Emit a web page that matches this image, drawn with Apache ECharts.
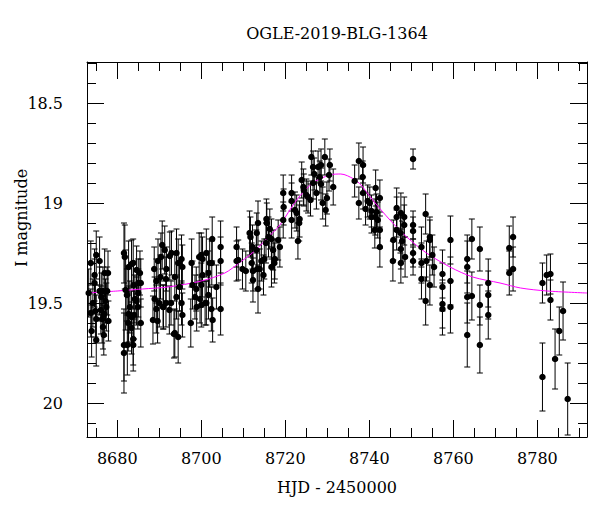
<!DOCTYPE html>
<html>
<head>
<meta charset="utf-8">
<script src="https://cdn.jsdelivr.net/npm/echarts@6/dist/echarts.min.js"></script>
<style>
html,body{margin:0;padding:0;background:#fff;}
#chart{width:600px;height:512px;}
</style>
</head>
<body>
<div id="chart"></div>
<script>
// ---- data ----
const titleText = "OGLE-2019-BLG-1364";
const xTitle = "HJD - 2450000";
const yTitle = "I magnitude";
const xMajor = [8680, 8700, 8720, 8740, 8760, 8780];
const xMinor = [8675,8685,8690,8695,8705,8710,8715,8725,8730,8735,8745,8750,8755,8765,8770,8775,8785,8790];
const yMajor = [18.5, 19, 19.5, 20];
const yMinor = [18.3,18.4,18.6,18.7,18.8,18.9,19.1,19.2,19.3,19.4,19.6,19.7,19.8,19.9,20.1];

const hjd = [
 8673.7,8675.0,8675.8,8674.6,8674.6,8675.8,8676.6,8677.0,8677.8,8676.2,8677.2,8677.4,8673.7,8674.8,8676.1,8676.9,8675.0,8676.4,8673.9,8675.0,8676.6,8677.6,8673.2,8674.2,8677.9,8676.8,
 8681.6,8681.8,8682.0,8682.7,8683.4,8683.8,8684.6,8685.0,8685.6,8683.9,8684.2,8684.6,8682.7,8683.4,8684.0,8682.6,8683.4,8685.6,8683.8,8681.6,8682.4,8683.8,8681.6,8685.0,8683.0,8682.3,8684.9,8685.4,
 8688.8,8689.7,8690.7,8690.4,8691.3,8691.7,8692.5,8689.3,8690.3,8691.6,8688.9,8690.0,8691.0,8691.6,8692.8,8689.3,8688.5,8689.6,8690.9,8692.4,8693.5,8692.9,8694.1,8694.5,8695.3,8695.5,8693.7,8694.8,8694.1,8695.3,8693.7,8694.5,8695.5,
 8697.7,8699.5,8700.0,8700.3,8701.2,8702.0,8702.6,8702.5,8704.6,8704.6,8697.9,8698.8,8700.0,8698.5,8699.7,8700.9,8701.7,8703.6,8698.9,8700.0,8701.2,8702.4,8697.5,8702.7,8704.6,8700.3,8701.7,
 8708.4,8708.4,8708.8,8709.8,8710.6,8711.5,8711.7,8712.0,8712.3,8713.2,8713.5,8713.3,8713.5,8713.1,8712.2,8712.3,8714.3,8713.9,8714.8,8715.0,
 8715.5,8715.6,8716.3,8716.7,8716.0,8715.4,8717.1,8717.5,8718.3,8718.7,8717.4,8716.7,8719.5,8719.5,8719.6,8721.5,8721.5,8721.5,8722.3,8722.7,8723.3,8723.0,8723.4,8723.9,8724.3,8724.4,8725.0,8725.4,8726.0,8726.2,8726.6,8726.9,8726.6,8727.4,8727.8,8728.2,8728.5,8728.9,8729.6,8729.4,8730.6,8730.4,8729.9,8731.4,8728.5,
 8737.5,8738.5,8738.4,8736.5,8737.5,8738.5,8739.6,8740.1,8739.1,8740.5,8740.5,8741.5,8741.7,8742.5,8741.4,8741.3,8742.5,8742.0,8742.5,8750.4,
 8746.5,8747.5,8746.5,8748.3,8748.3,8745.7,8746.5,8747.4,8747.8,8748.5,8747.5,8747.5,8745.6,8750.4,8750.4,8750.4,8750.4,
 8753.4,8754.4,8754.4,8752.4,8753.6,8752.4,8755.0,8752.4,8754.4,8753.4,8755.4,
 8757.4,8757.4,8757.4,8757.4,8759.3,8759.3,8759.3,8763.3,8763.3,8763.3,8763.3,8764.4,8764.4,8766.3,8766.3,8766.3,8768.3,8768.3,8768.3,8773.3,8773.3,8774.2,8774.2,
 8781.2,8781.2,8782.2,8783.1,8783.1,8784.2,8785.2,8786.1,8787.2
];
const mag = [
 19.30,19.26,19.29,19.36,19.40,19.44,19.44,19.35,19.35,19.47,19.49,19.52,19.55,19.54,19.535,19.555,19.58,19.58,19.64,19.685,19.62,19.44,19.45,19.50,19.59,19.66,
 19.25,19.27,19.435,19.32,19.305,19.30,19.335,19.40,19.40,19.41,19.48,19.49,19.555,19.57,19.56,19.60,19.625,19.60,19.68,19.71,19.71,19.71,19.75,19.45,19.52,19.46,19.52,19.35,
 19.33,19.29,19.21,19.27,19.235,19.33,19.265,19.39,19.37,19.38,19.48,19.50,19.52,19.50,19.50,19.53,19.585,19.59,19.52,19.535,19.655,19.25,19.25,19.30,19.28,19.32,19.37,19.42,19.47,19.50,19.65,19.67,19.56,
 19.30,19.27,19.26,19.28,19.25,19.30,19.18,19.30,19.22,19.29,19.41,19.43,19.41,19.47,19.48,19.50,19.46,19.42,19.52,19.51,19.50,19.53,19.60,19.585,19.53,19.36,19.35,
 19.22,19.29,19.285,19.33,19.34,19.15,19.17,19.30,19.385,19.15,19.10,19.33,19.43,19.235,19.22,19.34,19.29,19.33,19.36,19.28,
 19.08,19.10,19.13,19.18,19.17,19.20,19.235,19.28,19.185,19.22,19.30,19.32,19.085,18.95,19.02,18.95,18.99,19.085,19.035,19.05,19.10,19.19,19.08,18.885,18.92,18.935,18.96,18.97,18.985,18.77,18.82,18.855,18.90,18.95,18.82,18.87,18.905,19.00,19.035,18.77,18.81,18.86,18.975,18.92,18.81,
 18.79,18.81,18.87,18.89,19.00,18.95,18.99,19.00,19.03,19.04,19.07,18.925,19.045,18.975,19.07,19.135,19.135,19.085,19.22,18.78,
 19.025,19.05,19.07,19.07,19.11,19.185,19.135,19.15,19.19,19.27,19.23,19.30,19.29,19.11,19.14,19.25,19.29,
 19.055,19.17,19.185,19.22,19.29,19.30,19.26,19.38,19.41,19.49,19.32,
 19.355,19.42,19.505,19.53,19.185,19.39,19.52,19.28,19.32,19.47,19.66,19.18,19.465,19.23,19.51,19.71,19.40,19.46,19.56,19.225,19.35,19.17,19.33,
 19.40,19.87,19.36,19.355,19.485,19.78,19.64,19.54,19.98
];
const err = [
 0.11,0.12,0.12,0.13,0.12,0.12,0.12,0.12,0.11,0.12,0.11,0.12,0.12,0.13,0.12,0.11,0.12,0.12,0.13,0.13,0.11,0.12,0.12,0.12,0.10,0.10,
 0.15,0.16,0.20,0.13,0.12,0.12,0.12,0.12,0.12,0.12,0.12,0.12,0.14,0.13,0.12,0.14,0.13,0.12,0.13,0.18,0.15,0.13,0.20,0.12,0.13,0.13,0.11,0.11,
 0.11,0.11,0.12,0.12,0.12,0.11,0.12,0.11,0.11,0.11,0.11,0.12,0.11,0.12,0.11,0.12,0.12,0.11,0.11,0.12,0.12,0.11,0.12,0.12,0.12,0.11,0.12,0.12,0.11,0.11,0.12,0.13,0.11,
 0.12,0.12,0.11,0.11,0.12,0.12,0.11,0.11,0.13,0.12,0.12,0.11,0.11,0.11,0.12,0.11,0.12,0.11,0.12,0.11,0.11,0.11,0.12,0.11,0.13,0.11,0.11,
 0.10,0.10,0.10,0.10,0.10,0.11,0.10,0.10,0.11,0.10,0.11,0.10,0.12,0.10,0.11,0.10,0.10,0.10,0.10,0.10,
 0.10,0.10,0.10,0.10,0.10,0.10,0.10,0.10,0.10,0.10,0.10,0.10,0.09,0.09,0.09,0.09,0.09,0.09,0.09,0.09,0.09,0.09,0.09,0.09,0.09,0.08,0.08,0.08,0.08,0.09,0.08,0.08,0.08,0.08,0.08,0.08,0.08,0.08,0.08,0.09,0.08,0.08,0.08,0.09,0.08,
 0.09,0.09,0.08,0.08,0.08,0.08,0.08,0.08,0.08,0.08,0.08,0.09,0.09,0.09,0.09,0.09,0.09,0.09,0.10,0.05,
 0.10,0.10,0.10,0.10,0.10,0.10,0.10,0.10,0.10,0.10,0.10,0.10,0.10,0.07,0.07,0.07,0.07,
 0.10,0.10,0.10,0.10,0.10,0.10,0.10,0.10,0.10,0.12,0.10,
 0.12,0.12,0.12,0.13,0.12,0.12,0.13,0.12,0.13,0.13,0.16,0.10,0.12,0.11,0.10,0.14,0.12,0.12,0.12,0.11,0.11,0.10,0.11,
 0.10,0.17,0.10,0.10,0.10,0.15,0.12,0.145,0.18
];

// model curve
const modelT = [8672.8,8680,8686,8692,8700,8705.6,8709,8712.7,8715.5,8718.7,8722.7,8726.5,8730.6,8733.2,8736.3,8738,8740.8,8744.9,8748.9,8753.6,8759.2,8764.6,8771.1,8776,8782.3,8791.8];
const modelM = [19.45,19.44,19.43,19.42,19.39,19.35,19.30,19.24,19.18,19.11,18.985,18.90,18.86,18.855,18.88,18.91,18.985,19.085,19.17,19.25,19.32,19.37,19.40,19.425,19.44,19.45];

// ---- chart ----
const XMIN = 8672.8, XMAX = 8791.8, YMIN = 18.295, YMAX = 20.17;
const FONT = "DejaVu Serif";
const chart = echarts.init(document.getElementById('chart'), null, {renderer: 'svg'});

function xAx(pos, vals, len, showLine, showLabel) {
  return {
    type: 'value', position: pos, min: XMIN, max: XMAX, gridIndex: 0,
    axisLine: {show: showLine, lineStyle: {color: '#000', width: 1}},
    axisTick: {show: true, inside: true, length: len, customValues: vals, lineStyle: {color: '#000', width: 1}},
    axisLabel: showLabel ? {show: true, customValues: vals, formatter: v => String(v), fontFamily: FONT, fontSize: 16, color: '#000', margin: 13} : {show: false},
    splitLine: {show: false}, minorTick: {show: false}
  };
}
function yAx(pos, vals, len, showLine, showLabel) {
  return {
    type: 'value', position: pos, min: YMIN, max: YMAX, inverse: true, gridIndex: 0,
    axisLine: {show: showLine, lineStyle: {color: '#000', width: 1}},
    axisTick: {show: true, inside: true, length: len, customValues: vals, lineStyle: {color: '#000', width: 1}},
    axisLabel: showLabel ? {show: true, customValues: vals, formatter: v => String(v), fontFamily: FONT, fontSize: 16, color: '#000', margin: 24} : {show: false},
    splitLine: {show: false}, minorTick: {show: false}
  };
}

const points = hjd.map((t, i) => [t, mag[i], err[i]]);
const model = modelT.map((t, i) => [t, modelM[i]]);

function renderErr(params, api) {
  const x = api.value(0), y = api.value(1), e = api.value(2);
  const top = api.coord([x, y - e]);
  const bot = api.coord([x, y + e]);
  const hw = 3;
  const st = {stroke: '#000', lineWidth: 1, fill: null};
  return {type: 'group', children: [
    {type: 'line', shape: {x1: top[0], y1: top[1], x2: bot[0], y2: bot[1]}, style: st},
    {type: 'line', shape: {x1: top[0] - hw, y1: top[1], x2: top[0] + hw, y2: top[1]}, style: st},
    {type: 'line', shape: {x1: bot[0] - hw, y1: bot[1], x2: bot[0] + hw, y2: bot[1]}, style: st}
  ]};
}

chart.setOption({
  backgroundColor: '#fff',
  animation: false,
  grid: {left: 87, top: 62, width: 500, height: 375, outerBoundsMode: 'none', containLabel: false},
  xAxis: [
    xAx('bottom', xMajor, 17, true, true),
    xAx('bottom', xMinor, 9, false, false),
    xAx('top', xMajor, 17, true, false),
    xAx('top', xMinor, 9, false, false)
  ],
  yAxis: [
    yAx('left', yMajor, 17, true, true),
    yAx('left', yMinor, 9, false, false),
    yAx('right', yMajor, 17, true, false),
    yAx('right', yMinor, 9, false, false)
  ],
  graphic: [
    {type: 'text', x: 337, y: 33, style: {text: titleText, font: '16px "DejaVu Serif"', fill: '#000', textAlign: 'center', textVerticalAlign: 'middle'}},
    {type: 'text', x: 337, y: 487, style: {text: xTitle, font: '16px "DejaVu Serif"', fill: '#000', textAlign: 'center', textVerticalAlign: 'middle'}},
    {type: 'text', x: 21, y: 218, rotation: Math.PI / 2, style: {text: yTitle, font: '16px "DejaVu Serif"', fill: '#000', textAlign: 'center', textVerticalAlign: 'middle'}}
  ],
  series: [
    {type: 'custom', xAxisIndex: 0, yAxisIndex: 0, renderItem: renderErr, data: points, encode: {x: 0, y: 1}, z: 1, clip: true, itemStyle: {opacity: 1}},
    {type: 'line', xAxisIndex: 0, yAxisIndex: 0, data: model, smooth: 0.3, symbol: 'none', lineStyle: {color: '#ff00ff', width: 1}, z: 2},
    {type: 'scatter', xAxisIndex: 0, yAxisIndex: 0, data: points.map(p => [p[0], p[1]]), symbol: 'circle', symbolSize: 6.5, itemStyle: {color: '#000', opacity: 1}, z: 3}
  ]
});
</script>
</body>
</html>
